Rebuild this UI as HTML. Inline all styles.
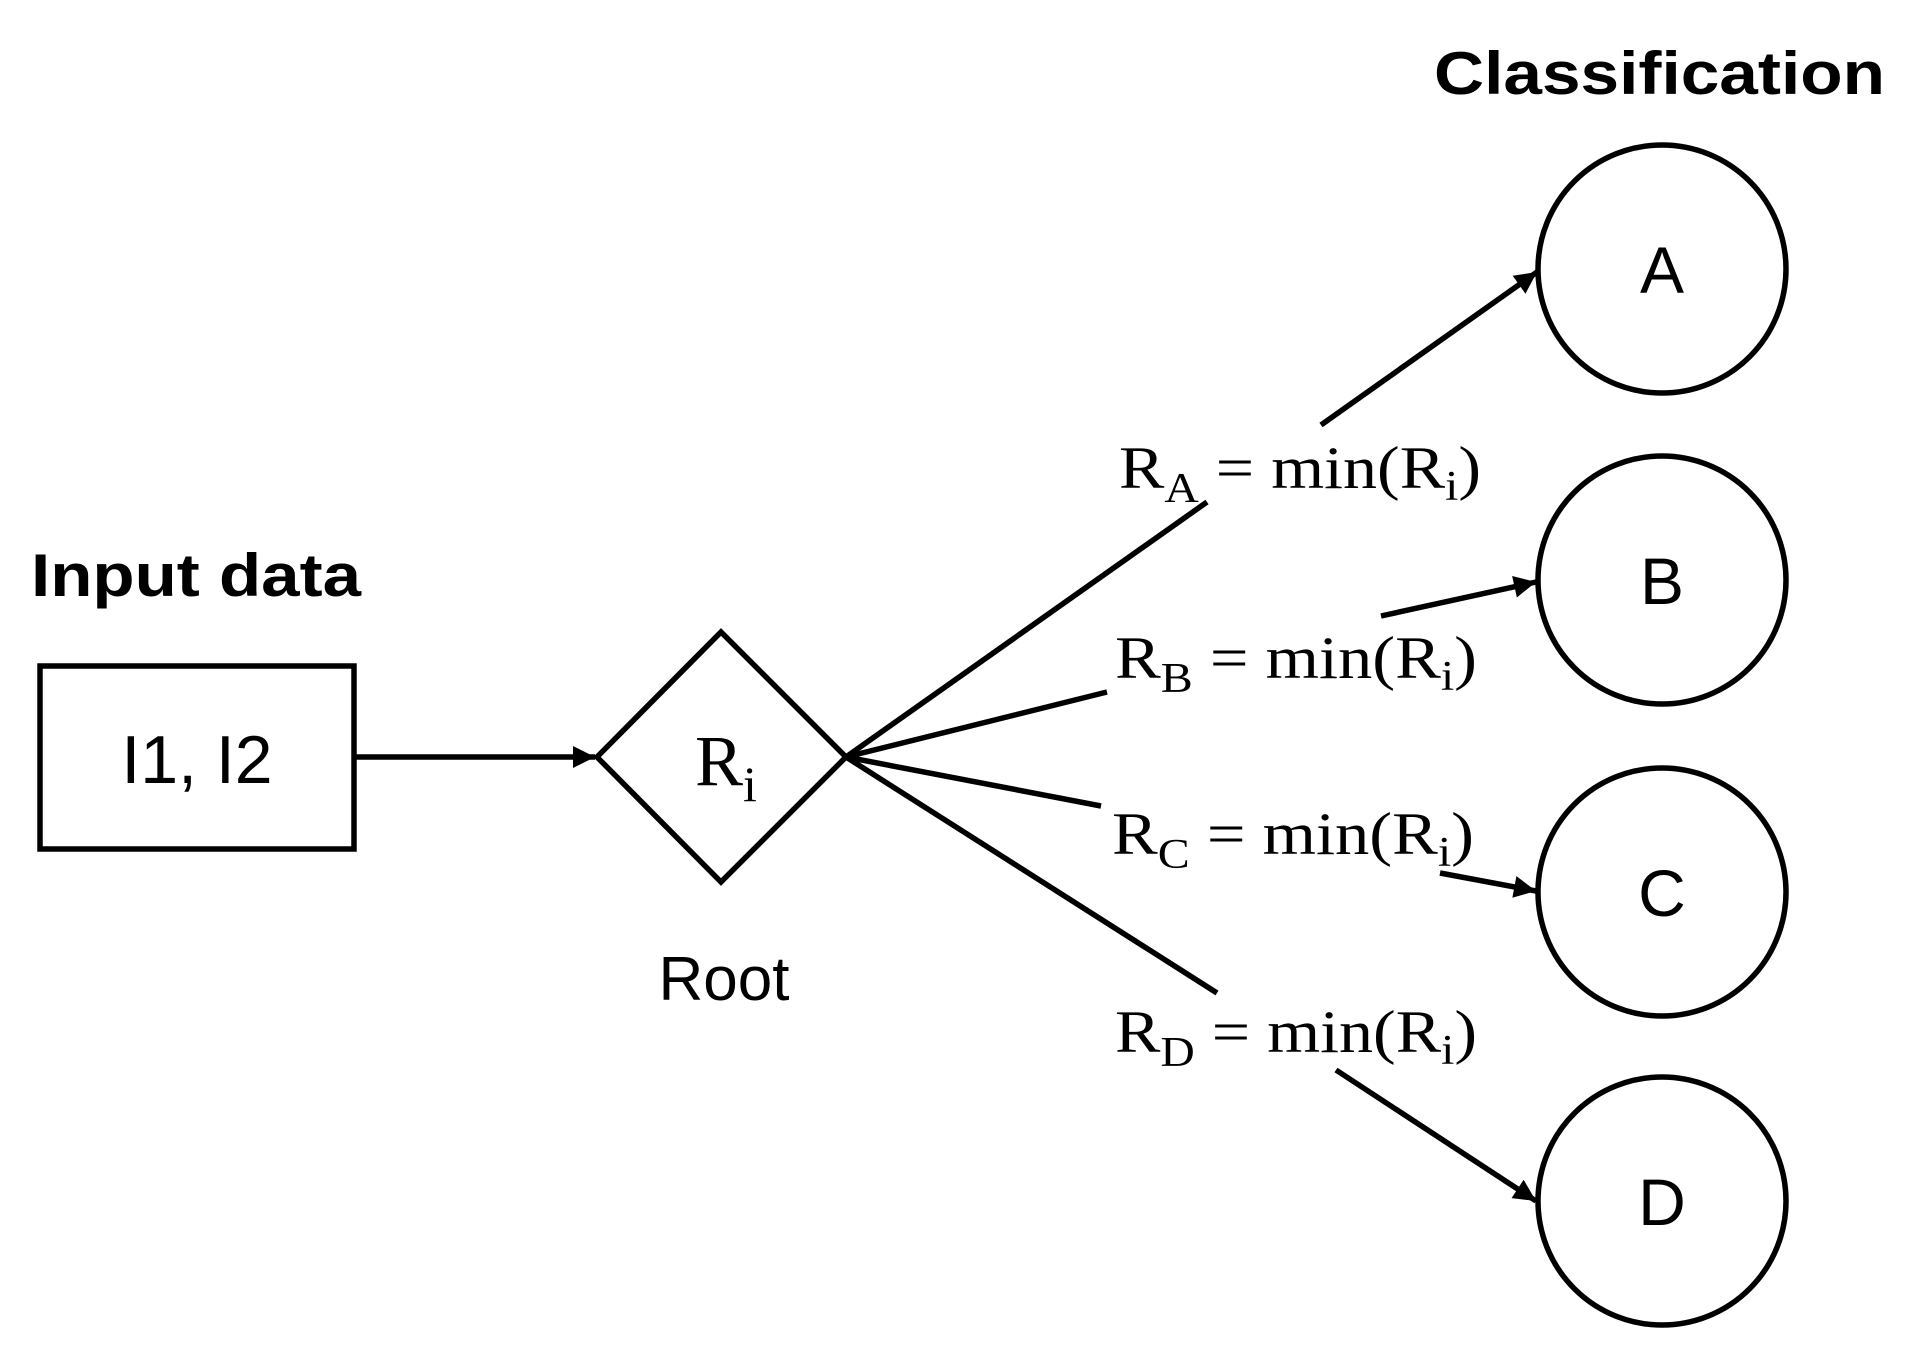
<!DOCTYPE html>
<html><head><meta charset="utf-8"><style>html,body{margin:0;padding:0;background:#fff}svg{display:block}</style></head>
<body>
<svg width="1912" height="1349" viewBox="0 0 1912 1349" xmlns="http://www.w3.org/2000/svg">
<defs>
<marker id="ah" viewBox="0 0 10 10" refX="10" refY="5" markerWidth="24" markerHeight="22" markerUnits="userSpaceOnUse" orient="auto"><path d="M0,0 L10,5 L0,10 z" fill="#000"/></marker></defs>
<g fill="none" stroke="#000" stroke-width="5.5">
<rect x="40" y="666" width="314" height="183"/>
<polygon points="597,757 721,632 846,757 721,882"/>
<circle cx="1662" cy="269" r="124"/>
<circle cx="1662" cy="580" r="124"/>
<circle cx="1662" cy="892" r="124"/>
<circle cx="1662" cy="1201" r="124"/>
<line x1="354" y1="757" x2="595" y2="757" marker-end="url(#ah)"/>
<line x1="846" y1="757" x2="1207" y2="502"/>
<line x1="1321" y1="425" x2="1537" y2="272" marker-end="url(#ah)"/>
<line x1="846" y1="757" x2="1107" y2="692"/>
<line x1="1381" y1="616" x2="1536" y2="582" marker-end="url(#ah)"/>
<line x1="846" y1="757" x2="1101" y2="806"/>
<line x1="1440" y1="873" x2="1536" y2="891" marker-end="url(#ah)"/>
<line x1="846" y1="757" x2="1217" y2="993"/>
<line x1="1336" y1="1070" x2="1536" y2="1201" marker-end="url(#ah)"/>
</g>
<g font-family="Liberation Sans, Arial, sans-serif" fill="#000">
<text x="31" y="596" font-size="60" font-weight="bold" textLength="330" lengthAdjust="spacingAndGlyphs">Input data</text>
<text x="1434" y="94" font-size="60" font-weight="bold" textLength="451" lengthAdjust="spacingAndGlyphs">Classification</text>
<text x="197" y="783" font-size="68" text-anchor="middle">I1, I2</text>
<text x="724" y="1000" font-size="62" text-anchor="middle">Root</text>
<text x="1662" y="293" font-size="66" text-anchor="middle">A</text>
<text x="1662" y="604" font-size="66" text-anchor="middle">B</text>
<text x="1662" y="916" font-size="66" text-anchor="middle">C</text>
<text x="1662" y="1225" font-size="66" text-anchor="middle">D</text>
</g>
<g font-family="Liberation Serif, Times New Roman, serif" fill="#000">
<text x="695" y="785" font-size="72">R<tspan font-size="50" dy="16">i</tspan></text>
<text x="1119" y="488" font-size="60" textLength="362" lengthAdjust="spacingAndGlyphs">R<tspan font-size="42" dy="14">A</tspan><tspan dy="-14"> = min(R</tspan><tspan font-size="42" dy="12">i</tspan><tspan dy="-12">)</tspan></text>
<text x="1115" y="678" font-size="60" textLength="362" lengthAdjust="spacingAndGlyphs">R<tspan font-size="42" dy="14">B</tspan><tspan dy="-14"> = min(R</tspan><tspan font-size="42" dy="12">i</tspan><tspan dy="-12">)</tspan></text>
<text x="1112" y="854" font-size="60" textLength="362" lengthAdjust="spacingAndGlyphs">R<tspan font-size="42" dy="14">C</tspan><tspan dy="-14"> = min(R</tspan><tspan font-size="42" dy="12">i</tspan><tspan dy="-12">)</tspan></text>
<text x="1115" y="1052" font-size="60" textLength="362" lengthAdjust="spacingAndGlyphs">R<tspan font-size="42" dy="14">D</tspan><tspan dy="-14"> = min(R</tspan><tspan font-size="42" dy="12">i</tspan><tspan dy="-12">)</tspan></text>
</g>
</svg>
</body></html>
